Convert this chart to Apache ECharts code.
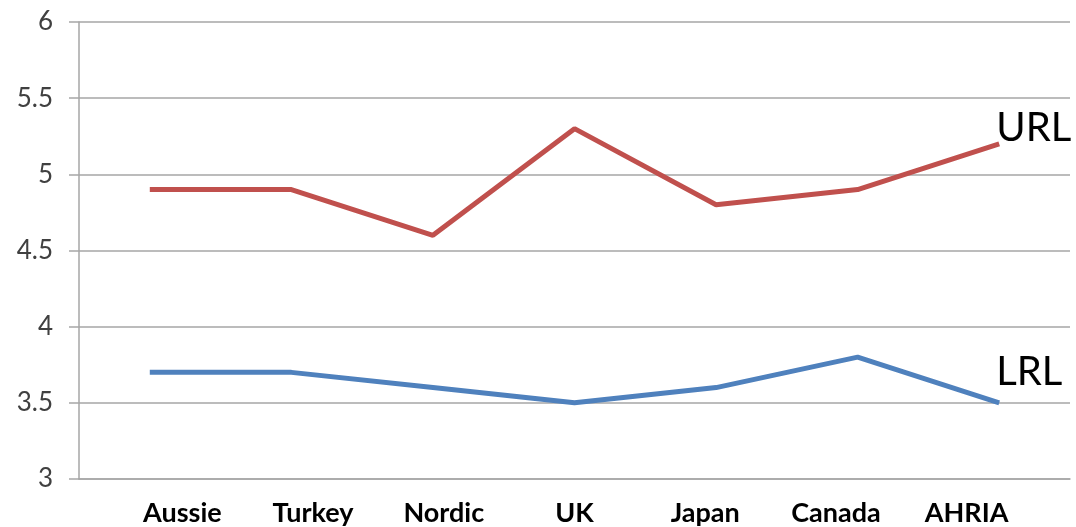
<!DOCTYPE html>
<html>
<head>
<meta charset="utf-8">
<script src="https://cdn.jsdelivr.net/npm/echarts@6/dist/echarts.min.js"></script>
<style>
  html, body { margin: 0; padding: 0; background: #fff; }
  #chart { width: 1076px; height: 527px; }
</style>
</head>
<body>
<div id="chart"></div>
<script>
// Categories and series values
const categories = ['Aussie', 'Turkey', 'Nordic', 'UK', 'Japan', 'Canada', 'AHRIA'];
const urlValues = [4.9, 4.9, 4.6, 5.3, 4.8, 4.9, 5.2];
const lrlValues = [3.7, 3.7, 3.6, 3.5, 3.6, 3.8, 3.5];
const yTicks = [3, 3.5, 4, 4.5, 5, 5.5, 6];

const chart = echarts.init(document.getElementById('chart'), null, { renderer: 'canvas' });

const gridColor = '#a6a6a6';
const font = 'Lato, "Liberation Sans", sans-serif';

chart.setOption({
  animation: false,
  backgroundColor: '#ffffff',
  grid: [
    { left: 79, right: 6, top: 22, bottom: 48, containLabel: false },
    // separate band holding the category names under the plot
    { left: 117, right: 44, top: 22, bottom: 48, containLabel: false }
  ],
  xAxis: [
    {
      type: 'category',
      gridIndex: 0,
      data: categories,
      boundaryGap: true,
      axisLine: { show: true, lineStyle: { color: gridColor, width: 1.5 } },
      axisTick: { show: false },
      axisLabel: { show: false }
    },
    {
      type: 'category',
      gridIndex: 1,
      data: categories,
      boundaryGap: true,
      axisLine: { show: false },
      axisTick: { show: false },
      axisLabel: {
        show: true,
        margin: 21,
        color: '#000000',
        fontFamily: font,
        fontWeight: 'bold',
        fontSize: 27
      }
    }
  ],
  yAxis: [
    {
      type: 'value',
      gridIndex: 0,
      min: 3,
      max: 6,
      interval: 0.5,
      axisLine: { show: true, lineStyle: { color: gridColor, width: 1.5 } },
      axisTick: { show: true, length: 10, lineStyle: { color: gridColor, width: 1.5 } },
      splitLine: { show: true, lineStyle: { color: gridColor, width: 1.5 } },
      axisLabel: {
        margin: 26,
        color: '#404040',
        fontFamily: font,
        fontSize: 26,
        formatter: v => yTicks.includes(v) ? String(v) : ''
      }
    },
    {
      type: 'value',
      gridIndex: 1,
      min: 3,
      max: 6,
      show: false
    }
  ],
  series: [
    {
      name: 'URL',
      type: 'line',
      xAxisIndex: 0,
      yAxisIndex: 0,
      data: urlValues,
      symbol: 'none',
      lineStyle: { color: '#c0504d', width: 5 },
      itemStyle: { color: '#c0504d' },
      endLabel: {
        show: true,
        formatter: '{a}',
        color: '#000000',
        fontFamily: font,
        fontSize: 40,
        distance: 0,
        offset: [-3, -16]
      }
    },
    {
      name: 'LRL',
      type: 'line',
      xAxisIndex: 0,
      yAxisIndex: 0,
      data: lrlValues,
      symbol: 'none',
      lineStyle: { color: '#4f81bd', width: 5 },
      itemStyle: { color: '#4f81bd' },
      endLabel: {
        show: true,
        formatter: '{a}',
        color: '#000000',
        fontFamily: font,
        fontSize: 40,
        distance: 0,
        offset: [-3, -31]
      }
    }
  ]
});
</script>
</body>
</html>
